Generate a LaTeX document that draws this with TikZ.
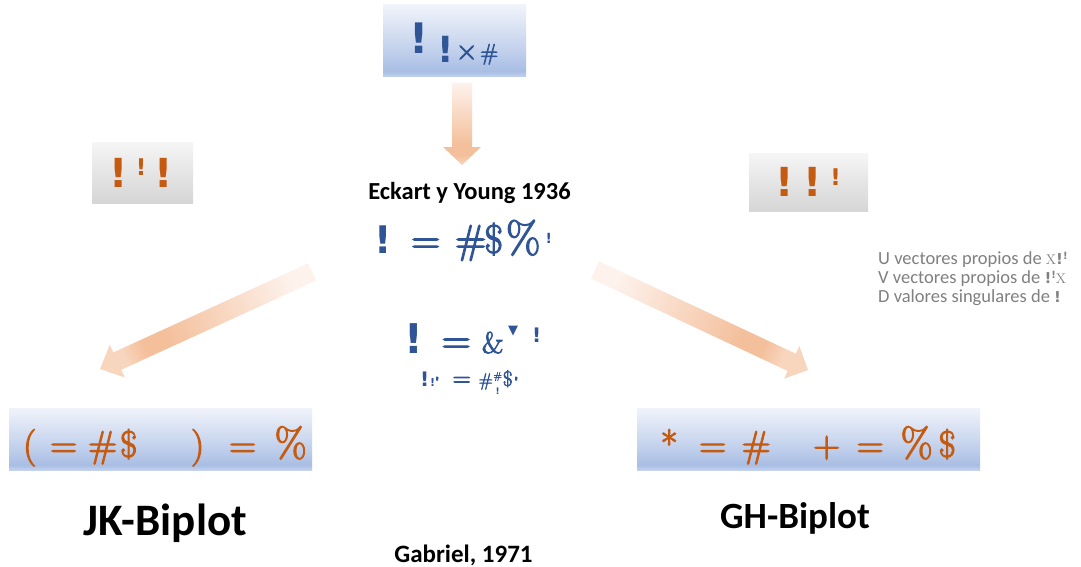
\documentclass[tikz,border=0pt]{standalone}
\usepackage{fontspec}
\usetikzlibrary{calc}
\newfontfamily\labelfont{Carlito}
\newfontfamily\bangfont{DejaVu Sans}
\newfontfamily\symfont{DejaVu Sans}
\newfontfamily\eqfont{Latin Modern Roman}[FakeBold=3]

\definecolor{eqblue}{RGB}{47,85,151}
\definecolor{eqorange}{RGB}{197,90,17}
\definecolor{notegray}{RGB}{128,128,128}
\definecolor{peach}{RGB}{244,192,156}
\definecolor{peachtip}{RGB}{248,214,190}
\definecolor{fadelight}{RGB}{253,242,236}
\definecolor{bluetop}{RGB}{240,243,250}
\definecolor{bluemid}{RGB}{204,216,239}
\definecolor{bluedark}{RGB}{169,190,228}
\definecolor{bluerim}{RGB}{196,210,238}
\definecolor{graytop}{RGB}{246,246,246}
\definecolor{graymid}{RGB}{229,229,229}
\definecolor{graybot}{RGB}{214,214,214}

% office-like fills for the boxes and the fading block arrows
\pgfdeclareverticalshading{boxblue}{100bp}{color(0bp)=(bluerim); color(25bp)=(bluerim);
  color(29bp)=(bluedark); color(50bp)=(bluemid); color(75bp)=(bluetop); color(100bp)=(bluetop)}
\pgfdeclareverticalshading{boxgray}{100bp}{color(0bp)=(graybot); color(25bp)=(graybot);
  color(50bp)=(graymid); color(75bp)=(graytop); color(100bp)=(graytop)}
\pgfdeclarehorizontalshading{arrowfade}{100bp}{color(0bp)=(fadelight); color(25bp)=(fadelight);
  color(62bp)=(peach); color(69bp)=(peach); color(75bp)=(peachtip); color(100bp)=(peachtip)}

\newcommand{\fs}[1]{\fontsize{#1}{#1}\selectfont}
\newcommand{\bang}[1]{{\fs{#1}\bangfont\bfseries !}}
\newcommand{\gl}[1]{\makebox[0pt]{#1}}

% block arrow: tail, tip, shaft half width, head half width, head length, shading angle
\newcommand{\blockarrow}[6]{%
  \coordinate (#1-base) at ($(#2)!#5!(#1)$);
  \shade[shading=arrowfade, shading angle=#6]
    ($(#1)!#3!90:(#2)$) -- ($(#1-base)!#3!90:(#2)$) -- ($(#1-base)!#4!90:(#2)$)
    -- (#2) -- ($(#1-base)!#4!-90:(#2)$) -- ($(#1-base)!#3!-90:(#2)$)
    -- ($(#1)!#3!-90:(#2)$) -- cycle;}

\tikzset{
  bluebox/.style={shade, shading=boxblue, draw=none, inner sep=0pt},
  graybox/.style={shade, shading=boxgray, draw=none, inner sep=0pt},
  glyphs/.style={inner sep=0pt, anchor=base west},
  bluetext/.style={glyphs, text=eqblue},
  orangetext/.style={glyphs, text=eqorange},
  caption/.style={inner sep=0pt, anchor=base, text=black, font=\labelfont\bfseries},
  note/.style={inner sep=0pt, anchor=base west, text=notegray, font=\labelfont\fs{18.5}}
}

\begin{document}
\begin{tikzpicture}[x=1pt,y=-1pt]
\useasboundingbox (0,0) rectangle (1081,567);
\fill[white] (0,0) rectangle (1081,567);

% boxes
\node[bluebox, minimum width=143pt, minimum height=72pt] (svd) at (454.5,41) {};
\node[graybox, minimum width=101pt, minimum height=61pt] (jkcase) at (142.5,172.5) {};
\node[graybox, minimum width=119pt, minimum height=58pt] (ghcase) at (808.5,182) {};
\node[bluebox, minimum width=303pt, minimum height=62pt] (jkbox) at (160.5,439) {};
\node[bluebox, minimum width=343pt, minimum height=62pt] (ghbox) at (808.5,439) {};

% block arrows
\coordinate (downtail) at (462,83);
\coordinate (downtip) at (462,165);
\coordinate (lefttail) at (312,272);
\coordinate (lefttip) at (100,369);
\coordinate (righttail) at (595,270);
\coordinate (righttip) at (808,370);
\blockarrow{downtail}{downtip}{10pt}{19pt}{18pt}{270}
\blockarrow{lefttail}{lefttip}{9.5pt}{18pt}{19pt}{204.6}
\blockarrow{righttail}{righttip}{9.5pt}{18pt}{18pt}{334.8}

% text in the top box
\node[bluetext, font=\eqfont] (svdtxt) at (419,54) {\gl{\bang{42}}\hspace{26.5pt}\gl{\raisebox{-9pt}{\bang{36}}}%
  \hspace{21pt}\gl{\raisebox{-6pt}{\fs{30}×}}\hspace{22.5pt}\gl{\raisebox{-6pt}{\fs{23}\#}}};

% text in the grey boxes
\node[orangetext] (jkcasetxt) at (118,187) {\gl{\bang{40}}\hspace{23pt}\gl{\raisebox{12pt}{\bang{23}}}%
  \hspace{22.5pt}\gl{\bang{40}}};
\node[orangetext] (ghcasetxt) at (784,196) {\gl{\bang{40}}\hspace{28.5pt}\gl{\bang{40}}%
  \hspace{23pt}\gl{\raisebox{11pt}{\bang{23}}}};

% central formulas
\node[caption, font=\labelfont\bfseries\fs{24.5}] (eckart) at (469.5,199) {Eckart y Young 1936};
\node[bluetext, font=\eqfont\fs{40}] (eqone) at (382.5,253) {\gl{\bang{38}}\hspace{43pt}\gl{=}\hspace{45pt}%
  \gl{\#}\hspace{23pt}\gl{\$}\hspace{29.5pt}\gl{\fs{44}\%}\hspace{25.5pt}\gl{\raisebox{10pt}{\bang{14}}}};
\node[bluetext, font=\eqfont\fs{40}] (eqtwo) at (413.5,353) {\gl{\bang{41}}\hspace{42.5pt}\gl{=}\hspace{36.5pt}%
  \gl{\fs{30}\&}\hspace{20.5pt}\gl{\raisebox{19pt}{\symfont\fs{13}▼}}\hspace{23.5pt}\gl{\raisebox{11pt}{\bang{20}}}};
\node[bluetext, font=\eqfont] (eqthree) at (424.5,386) {\gl{\bang{20}}\hspace{8pt}\gl{\bang{11}}\hspace{4.5pt}\gl{\fs{13}"}%
  \hspace{24.5pt}\gl{\fs{25}=}\hspace{24pt}\gl{\fs{18}\#}\hspace{12pt}\gl{\raisebox{-8pt}{\bang{9}}}%
  \hspace{0pt}\gl{\raisebox{7pt}{\fs{10}\#}}\hspace{10pt}\gl{\fs{21}\$}\hspace{8.5pt}\gl{\fs{13}"}};

% notes on the right
\node[note] (noteu) at (878,264) {U vectores propios de {\rmfamily\fs{14}X}\bang{15}\raisebox{5pt}{\bang{10}}};
\node[note] (notev) at (878,283) {V vectores propios de \bang{15}\raisebox{5pt}{\bang{10}}{\rmfamily\fs{14}X}};
\node[note] (noted) at (878,302) {D valores singulares de \bang{15}};

% formulas in the bottom boxes
\node[orangetext, font=\eqfont\fs{37}] (jkeq) at (29.5,457) {\gl{(}\hspace{34pt}\gl{=}\hspace{39pt}\gl{\#}%
  \hspace{26pt}\gl{\$}\hspace{69pt}\gl{)}\hspace{45pt}\gl{=}\hspace{48pt}\gl{\fs{41}\%}};
\node[orangetext, font=\eqfont\fs{37}] (gheq) at (669,457) {\gl{*}\hspace{43.5pt}\gl{=}\hspace{43.5pt}\gl{\#}%
  \hspace{70.5pt}\gl{+}\hspace{43.5pt}\gl{=}\hspace{46.5pt}\gl{\fs{41}\%}\hspace{30.5pt}\gl{\$}};

% captions
\node[caption, font=\labelfont\bfseries\fs{45}] (jklabel) at (165,535) {JK-Biplot};
\node[caption, font=\labelfont\bfseries\fs{37}] (ghlabel) at (795,528) {GH-Biplot};
\node[caption, font=\labelfont\bfseries\fs{25}] (gabriel) at (463.5,562) {Gabriel, 1971};
\end{tikzpicture}
\end{document}
